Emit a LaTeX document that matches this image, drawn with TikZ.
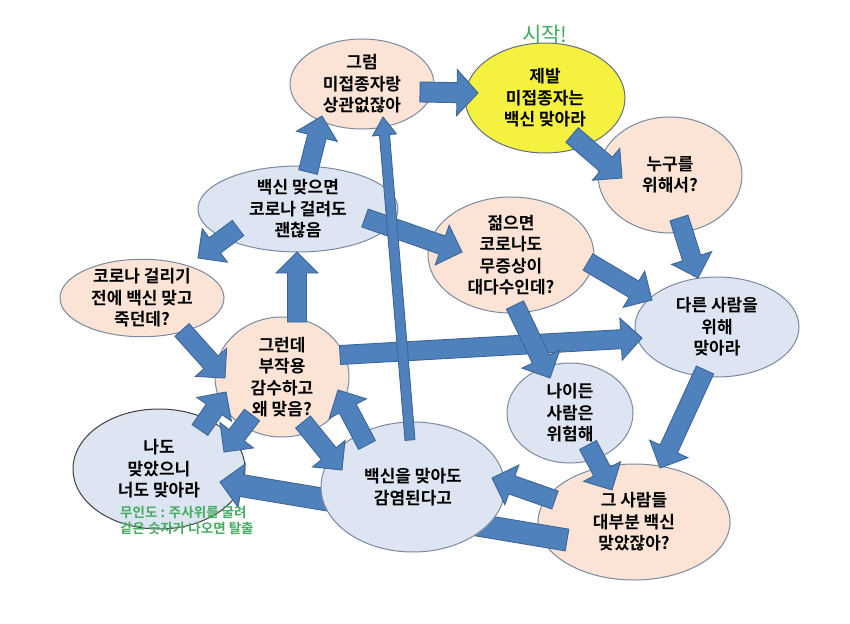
\documentclass[tikz,border=0pt]{standalone}
\usepackage{fontspec}
\setmainfont{Noto Sans CJK KR}[BoldFont={Noto Sans CJK KR Bold}]
\usepackage{tikz}
\usetikzlibrary{calc,positioning,shapes.geometric}
\definecolor{peachBg}{HTML}{FBE4D5}
\definecolor{skyBg}{HTML}{DCE5F1}
\definecolor{startYellow}{HTML}{F4F23E}
\definecolor{bubbleEdge}{HTML}{7A8AA0}
\definecolor{arrowBlue}{HTML}{4F81BD}
\definecolor{arrowEdge}{HTML}{3D6696}
\definecolor{noteGreen}{HTML}{45AC62}
\tikzset{
    bubble/.style={ellipse, draw=bubbleEdge, line width=1pt, inner sep=0pt,
                   font=\bfseries\fontsize{17}{21.5}\selectfont, align=center},
    peachBubble/.style={bubble, fill=peachBg},
    skyBubble/.style={bubble, fill=skyBg},
    startBubble/.style={bubble, fill=startYellow, draw=bubbleEdge!80!black},
    blockArrow/.style={fill=arrowBlue, draw=arrowEdge, line width=0.9pt,
                       line join=miter},
    baW/.store in=\baW, baH/.store in=\baH, baL/.store in=\baL,
    baW=9.5pt, baH=21pt, baL=21pt,
    startLbl/.style={text=noteGreen, inner sep=1pt, font=\fontsize{21}{24}\selectfont},
    escapeNote/.style={text=noteGreen, inner sep=0pt, align=left,
                       font=\bfseries\fontsize{13.5}{16}\selectfont},
}
% block arrow: [dims]{from node}{offset}{to node}{offset}
\newcommand\barrow[5][]{%
  \begin{scope}[#1]
    \coordinate (baT) at ($(#2)+(#3)$);
    \coordinate (baP) at ($(#4)+(#5)$);
    \coordinate (baB) at ($(baP)!\baL!(baT)$);
    \draw[blockArrow] ($(baT)!\baW!90:(baP)$) -- ($(baB)!\baW!90:(baP)$)
      -- ($(baB)!\baH!90:(baP)$) -- (baP) -- ($(baB)!\baH!-90:(baP)$)
      -- ($(baB)!\baW!-90:(baP)$) -- ($(baT)!\baW!-90:(baP)$) -- cycle;
  \end{scope}}

\begin{document}
\begin{tikzpicture}[x=1pt, y=-1pt]

\fill[white] (0,0) rectangle (850,623);

% =======================  bubbles  =======================
\node[peachBubble, minimum width=144, minimum height=90] (geurum) at (362,84)
     {그럼\\미접종자랑\\상관없잖아};
\node[startBubble, minimum width=160, minimum height=110] (jebal) at (545,98)
     {제발\\미접종자는\\백신 맞아라};
\node[startLbl, above=-3pt of jebal] (startTag) {시작!};
\node[peachBubble, minimum width=144, minimum height=116] (nugu) at (670,175)
     {누구를\\위해서?};
\node[skyBubble, minimum width=200, minimum height=86] (baek) at (298,209)
     {백신 맞으면\\코로나 걸려도\\괜찮음};
\node[peachBubble, minimum width=166, minimum height=116] (jeolm) at (511,255)
     {젊으면\\코로나도\\무증상이\\대다수인데?};
\node[peachBubble, inner ysep=-2pt, minimum width=164, minimum height=76] (corona)
     at (142,298) {코로나 걸리기\\전에 백신 맞고\\죽던데?};
\node[peachBubble, minimum width=134, minimum height=120] (geureonde) at (282,377)
     {그런데\\부작용\\감수하고\\왜 맞음?};
\node[skyBubble, minimum width=164, minimum height=100] (dareun) at (717,327)
     {다른 사람을\\위해\\맞아라};
\node[skyBubble, minimum width=126, minimum height=100] (naideun) at (570,413)
     {나이든\\사람은\\위험해};
\node[skyBubble, draw=black!75, minimum width=172, minimum height=120] (nado)
     at (159,469) {나도\\맞았으니\\너도 맞아라};
\node[peachBubble, minimum width=192, minimum height=116] (geusaram) at (634,522)
     {그 사람들\\대부분 백신\\맞았잖아?};

% arrow that runs behind the big bubble
\barrow[baW=11pt, baH=22pt, baL=22pt]{geusaram}{-67,18}{nado}{61,13}

\node[skyBubble, minimum width=184, minimum height=130] (gamyeom) at (413,487)
     {백신을 맞아도\\감염된다고};

\node[escapeNote, anchor=west] (escape) at (120,520)
     {무인도 : 주사위를 굴려\\같은 숫자가 나오면 탈출};

% =======================  arrows  =======================
\barrow[baW=10pt, baH=23pt]{geurum}{58,8}{jebal}{-67,-5}
\barrow{jebal}{27,37}{nugu}{-48,3}
\barrow{nugu}{9,43}{dareun}{-19,-49}
\barrow{jeolm}{77,7}{dareun}{-65,-27}
\barrow{baek}{67,9}{jeolm}{-49,-3}
\barrow{baek}{10,-37}{geurum}{-40,32}
\barrow{baek}{-60,19}{corona}{56,-40}
\barrow{geureonde}{15,-55}{baek}{-1,43}
\barrow{corona}{40,32}{geureonde}{-57,1}
\barrow{geureonde}{58,-22}{dareun}{-75,11}
\barrow{jeolm}{4,50}{naideun}{-20,-35}
\barrow{naideun}{18,32}{geusaram}{-22,-32}
\barrow{dareun}{-12,43}{geusaram}{26,-54}
\barrow{geusaram}{-79,-22}{gamyeom}{79,-9}
\barrow{geureonde}{21,45}{gamyeom}{-71,-17}
\barrow{gamyeom}{-46,-42}{geureonde}{56,13}
\barrow{nado}{41,-39}{geureonde}{-56,15}
\barrow{geureonde}{-30,38}{nado}{65,-17}
\barrow[baW=5pt, baH=12pt, baL=18pt]{gamyeom}{-3,-47}{geurum}{21,33}

\end{tikzpicture}
\end{document}
